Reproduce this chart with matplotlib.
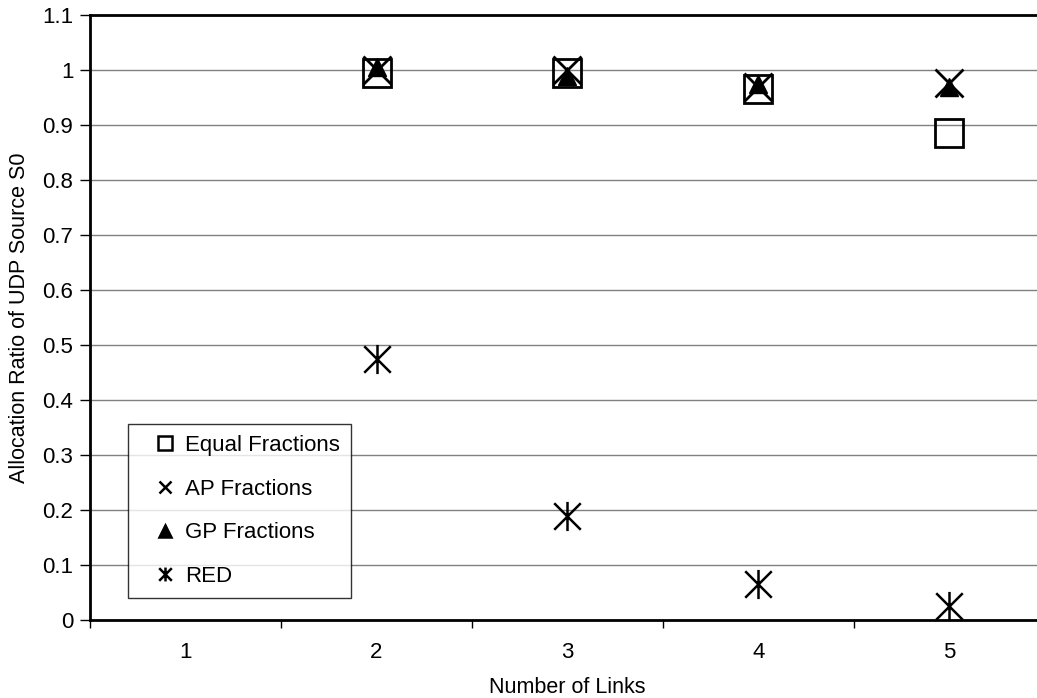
import numpy as np
import matplotlib
matplotlib.use('Agg')
import matplotlib.pyplot as plt
from matplotlib.path import Path
from matplotlib.ticker import FixedLocator, MultipleLocator

plt.rcParams['font.family'] = ['Liberation Sans', 'DejaVu Sans']

links = [1, 2, 3, 4, 5]
equal_frac = [np.nan, 0.995, 0.995, 0.965, 0.885]
ap_frac = [np.nan, 1.0, 1.0, 0.97, 0.976]
gp_frac = [np.nan, 1.005, 0.99, 0.975, 0.97]
red = [np.nan, 0.475, 0.189, 0.065, 0.025]

# asterisk = X with a vertical bar
star = Path([(-1, -1), (1, 1), (-1, 1), (1, -1), (0, -1.1), (0, 1.1)],
            [Path.MOVETO, Path.LINETO, Path.MOVETO, Path.LINETO, Path.MOVETO, Path.LINETO])

fig = plt.figure(figsize=(10.37, 6.98), dpi=100)
ax = fig.add_axes([0.0868, 0.1117, 0.9209, 0.8668])

ax.plot(links, equal_frac, ls='none', marker='s', ms=20, mfc='none', mec='black', mew=2, label='Equal Fractions')
ax.plot(links, ap_frac, ls='none', marker='x', ms=20, mec='black', mew=2, label='AP Fractions')
ax.plot(links, gp_frac, ls='none', marker='^', ms=13, mfc='black', mec='black', label='GP Fractions')
ax.plot(links, red, ls='none', marker=star, ms=21, mec='black', mew=1.8, label='RED')

ax.set_xlim(0.5, 5.5)
ax.set_ylim(0, 1.1)
ax.yaxis.set_major_locator(MultipleLocator(0.1))
ax.set_yticklabels(['0' if abs(v) < 1e-9 else ('1' if abs(v - 1) < 1e-9 else f'{v:.1f}') for v in ax.get_yticks()])
ax.yaxis.grid(True, color='#808080', lw=1)
ax.set_axisbelow(True)

ax.set_xticks(links)
ax.xaxis.set_minor_locator(FixedLocator(np.arange(0.5, 6, 1)))
ax.tick_params(axis='x', which='major', length=0, pad=16, labelsize=16)
ax.tick_params(axis='x', which='minor', length=6, width=1, direction='out')
ax.tick_params(axis='y', length=7, width=1, direction='out', labelsize=16, pad=5)

for s in ax.spines.values():
    s.set_linewidth(2)
    s.set_color('black')

ax.set_xlabel('Number of Links', fontsize=15.5, labelpad=10)
ax.set_ylabel('Allocation Ratio of UDP Source S0', fontsize=15.5, labelpad=9)

leg = ax.legend(loc='lower left', bbox_to_anchor=(0.04, 0.036), fontsize=16,
                frameon=True, fancybox=False, edgecolor='black', handlelength=2.3, handletextpad=-0.25,
                labelspacing=1.02, borderpad=0.5, borderaxespad=0)
leg.get_frame().set_linewidth(1)
for h, size in zip(leg.legend_handles, [9.5, 9, 9, 10]):
    h.set_markersize(size)
    h.set_markeredgewidth(1.8)

fig.savefig('out.png', dpi=100)
